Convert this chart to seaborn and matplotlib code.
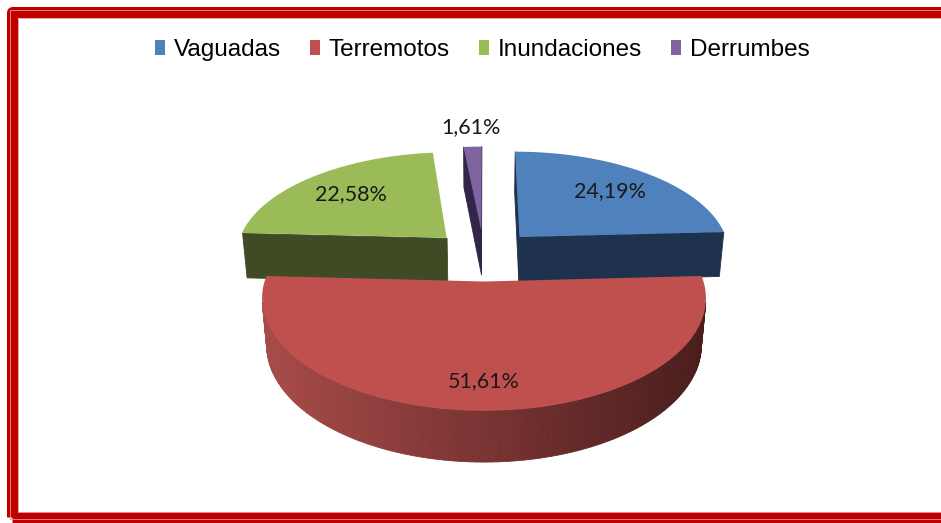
import numpy as np
import matplotlib
matplotlib.use("Agg")
import matplotlib.pyplot as plt
import seaborn as sns
from matplotlib import transforms as mtransforms
from matplotlib.path import Path
from matplotlib.patches import Patch, Rectangle
from matplotlib.collections import PolyCollection
from matplotlib.colors import to_rgb

# --- data ---
categories = ["Vaguadas", "Terremotos", "Inundaciones", "Derrumbes"]
shares = [24.19, 51.61, 22.58, 1.61]

# --- style ---
top_colors = sns.color_palette(["#4F81BD", "#C0504D", "#9BBB59", "#8064A2"])
side_left = ["#1F324D", "#A84B49", "#3F4B24", "#32254A"]
side_right = ["#1F324D", "#4A1D1D", "#3F4B24", "#32254A"]
label_dist = [0.7, 0.8, 0.7, 1.28]
side_z = [3, 5, 3, 1]

# view of the tilted pie, in output pixels
W, H = 941, 523
CX, CY = 484, 255
FOCAL, DIST = 1295, 6.12
TILT = np.radians(28.9)
DEPTH = 0.25
CAM_V = -DIST * np.cos(TILT)   # camera position on the pie's depth axis


def project(u, v, y):
    yc = y * np.cos(TILT) + v * np.sin(TILT)
    dc = DIST + v * np.cos(TILT) - y * np.sin(TILT)
    return CX + FOCAL * u / dc, CY - FOCAL * yc / dc


class Tilt(mtransforms.Transform):
    """pie plane (u, v) at height y -> pixel coords of the axes"""
    input_dims = output_dims = 2
    is_separable = False
    has_inverse = False

    def __init__(self, y=0.0):
        super().__init__()
        self.y = y

    def transform_non_affine(self, values):
        values = np.asarray(values, dtype=float)
        x, y = project(values[:, 0], values[:, 1], self.y)
        return np.column_stack([x, y])

    def transform_path_non_affine(self, path):
        pts = []
        for seg, code in path.iter_bezier():
            n = 2 if seg.degree <= 1 else 30
            pts.append(seg(np.linspace(0, 1, n)))
        return Path(self.transform_non_affine(np.vstack(pts)))


sns.set_theme(style="white")

fig = plt.figure(figsize=(W / 100, H / 100), dpi=100)
ax = fig.add_axes([0, 0, 1, 1])

wedges, _ = ax.pie(shares, explode=[0.25] * len(shares), startangle=90,
                   counterclock=False, colors=top_colors,
                   wedgeprops=dict(linewidth=0))
ax.set_aspect("auto")
ax.set_xlim(0, W)
ax.set_ylim(H, 0)
ax.axis("off")

for i, w in enumerate(wedges):
    # side walls: the slice outline swept down by DEPTH, only faces seen by the camera
    th = np.radians(np.linspace(w.theta1, w.theta2, 150))
    cu, cv = w.center
    u = np.r_[cu, cu + w.r * np.cos(th), cu]
    v = np.r_[cv, cv + w.r * np.sin(th), cv]
    xt, yt = project(u, v, 0.0)
    xb, yb = project(u, v, -DEPTH)
    quads = []
    for k in range(len(u) - 1):
        du, dv = u[k + 1] - u[k], v[k + 1] - v[k]
        if du == 0 and dv == 0:
            continue
        pu, pv = (u[k] + u[k + 1]) / 2, (v[k] + v[k + 1]) / 2
        if (0 - pu) * dv + (CAM_V - pv) * (-du) <= 0:
            continue
        quads.append([(xt[k], yt[k]), (xt[k + 1], yt[k + 1]),
                      (xb[k + 1], yb[k + 1]), (xb[k], yb[k])])
    if quads:
        xm = np.array([np.mean([p[0] for p in q]) for q in quads])
        f = (xm - xm.min()) / max(xm.max() - xm.min(), 1e-9)
        c0, c1 = np.array(to_rgb(side_left[i])), np.array(to_rgb(side_right[i]))
        cols = c0[None, :] * (1 - f[:, None]) + c1[None, :] * f[:, None]
        ax.add_collection(PolyCollection(quads, facecolors=cols, edgecolors=cols,
                                         linewidths=0.6, zorder=side_z[i]))

    w.set_transform(Tilt(0.0) + ax.transData)
    w.set_zorder(side_z[i] + 1)

    mid = np.radians((w.theta1 + w.theta2) / 2)
    ax.text(cu + label_dist[i] * w.r * np.cos(mid), cv + label_dist[i] * w.r * np.sin(mid),
            f"{shares[i]:.2f}%".replace(".", ","), transform=Tilt(0.0) + ax.transData,
            ha="center", va="center", fontsize=15.5, family=["Lato", "DejaVu Sans"],
            color="#1A1A1A", zorder=10)

handles = [Patch(facecolor=c, edgecolor="none") for c in top_colors]
fig.legend(handles, categories, loc="center", bbox_to_anchor=(482 / W, 1 - 50 / H),
           ncol=4, frameon=False, prop=dict(family=["Liberation Sans", "DejaVu Sans"], size=17.5),
           handlelength=0.42, handleheight=0.6, handletextpad=0.35,
           columnspacing=1.2, borderpad=0, labelcolor="black")

# red frame round the chart area
ident = mtransforms.IdentityTransform()
fig.add_artist(Rectangle((11.5, H - 516.5), 980, 505, fill=False, edgecolor="#C00000",
                         linewidth=11 * 0.72, joinstyle="round", transform=ident))
fig.add_artist(Rectangle((9.5, H - 519), 980, 509.5, fill=False, edgecolor="#EE8C8C",
                         linewidth=0.9 * 0.72, transform=ident))
fig.add_artist(Rectangle((17.5, H - 511.5), 980, 494, fill=False, edgecolor="#E7A0A0",
                         linewidth=0.9 * 0.72, transform=ident))

fig.savefig("out.png", dpi=100, facecolor="white")
